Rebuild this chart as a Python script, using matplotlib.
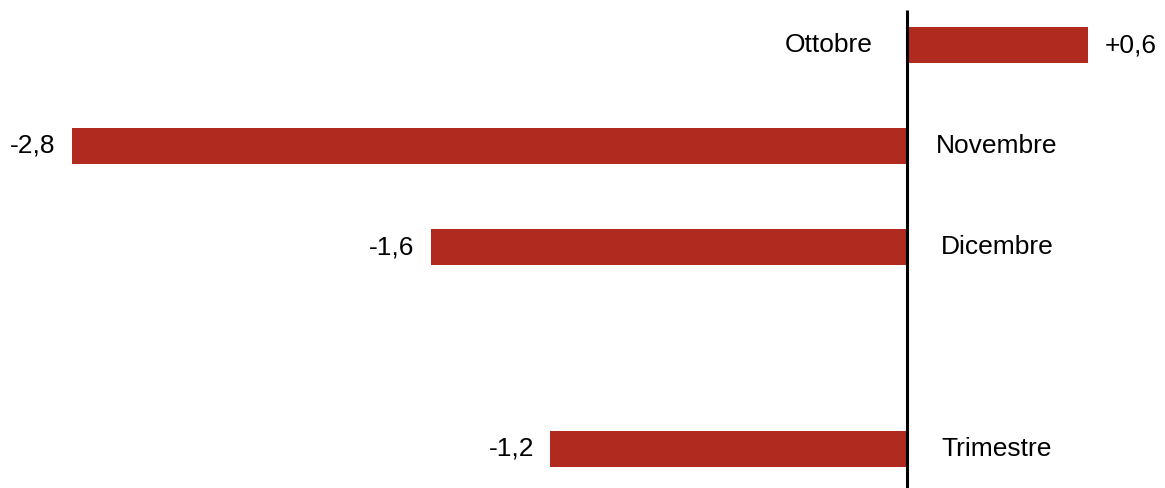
import matplotlib
matplotlib.use("Agg")
import matplotlib.pyplot as plt

categories = ["Ottobre", "Novembre", "Dicembre", "Trimestre"]
values = [0.6, -2.8, -1.6, -1.2]
value_labels = ["+0,6", "-2,8", "-1,6", "-1,2"]

plt.rcParams['font.family'] = ['Liberation Sans', 'DejaVu Sans']

slots = [0, 1, 2, 4]  # empty slot between Dicembre and Trimestre
bar_color = "#B02A20"

fig = plt.figure(figsize=(11.65, 4.88), dpi=100)
ax = fig.add_axes([0, 0, 1, 1])

ax.barh(slots, values, height=0.35, color=bar_color, zorder=2)

ax.set_xlim(-909 / 299, (1165 - 909) / 299)
ax.set_ylim((488 - 45) / 101, -45 / 101)

ax.plot([-0.006, -0.006], [(10 - 45) / 101, (488 - 45) / 101], color="black", lw=2.2,
        solid_capstyle="butt", zorder=3)

fs = 19
for s, v, cat, lab in zip(slots, values, categories, value_labels):
    if v >= 0:
        ax.annotate(lab, (v, s), xytext=(16 * 0.72, 0), textcoords="offset points",
                    ha="left", va="center", fontsize=fs)
        ax.annotate(cat, (0, s), xytext=(-80 * 0.72, 0), textcoords="offset points",
                    ha="center", va="center", fontsize=fs)
    else:
        ax.annotate(lab, (v, s), xytext=(-16 * 0.72, 0), textcoords="offset points",
                    ha="right", va="center", fontsize=fs)
        ax.annotate(cat, (0, s), xytext=(88 * 0.72, 0), textcoords="offset points",
                    ha="center", va="center", fontsize=fs)

ax.axis("off")
fig.savefig("out.png", dpi=100)
